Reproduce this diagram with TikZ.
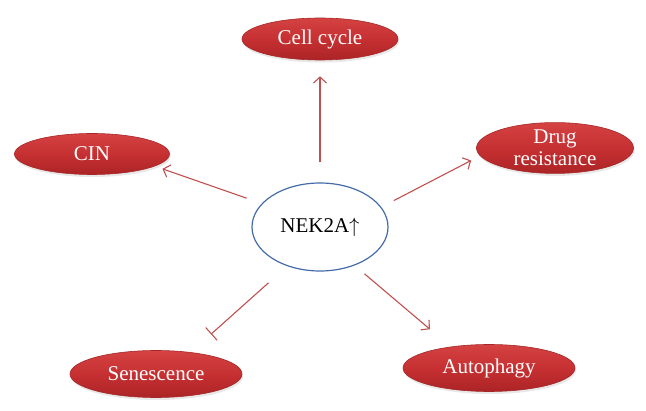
\documentclass[tikz,border=0pt]{standalone}
\usepackage{fontspec}
\setmainfont{Liberation Serif}
\usetikzlibrary{arrows.meta,shapes.geometric,shadows}
\definecolor{arr}{RGB}{192,80,77}
\definecolor{topred}{RGB}{212,66,66}
\definecolor{midred}{RGB}{198,48,50}
\definecolor{botred}{RGB}{172,36,38}
\definecolor{edgered}{RGB}{165,40,40}
\definecolor{nekblue}{RGB}{68,108,168}
\tikzset{
  redball/.style={ellipse, inner sep=0pt, draw=edgered, line width=0.6pt,
    top color=topred, bottom color=botred, middle color=midred,
    text=white, font=\fontsize{21}{23}\selectfont, align=center,
    drop shadow={opacity=0.18, shadow xshift=1pt, shadow yshift=-2.5pt}},
  nekball/.style={ellipse, inner sep=0pt, draw=nekblue, line width=1.2pt,
    fill=white, font=\fontsize{21}{23}\selectfont},
  link/.style={draw=arr, line width=1.1pt, -{Straight Barb[length=6pt,width=13pt,line width=1.1pt]}},
  block/.style={draw=arr, line width=1.1pt, -{Bar[width=17pt,line width=1.1pt]}}
}
\begin{document}
\begin{tikzpicture}[x=1pt,y=-1pt]
\useasboundingbox (0,0) rectangle (646,411);
\node[nekball, minimum width=136pt, minimum height=88pt] (nek) at (320,227) {NEK2A$\uparrow$};
\node[redball, minimum width=156pt, minimum height=42pt] (cell) at (320,39) {Cell cycle};
\node[redball, minimum width=155pt, minimum height=41pt] (cin) at (92,154) {CIN};
\node[redball, minimum width=157pt, minimum height=43pt] (drug) at (555,148) {Drug\\[-1pt]resistance};
\node[redball, minimum width=172pt, minimum height=47pt] (sen) at (156,374) {Senescence};
\node[redball, minimum width=172pt, minimum height=47pt] (auto) at (489,368) {Autophagy};

\draw[link, shorten <=20pt, shorten >=16pt] (nek.north) -- (cell.south);
\draw[link, shorten <=16pt, shorten >=8pt] (nek.158.3) -- (cin.-11.3);
\draw[link, shorten <=14pt, shorten >=10pt] (nek.18.9) -- (drug.186.2);
\draw[block, shorten <=25pt, shorten >=27pt] (nek.230.4) -- (sen.32.3);
\draw[link, shorten <=13pt, shorten >=27pt] (nek.-48.8) -- (auto.151.6);
\end{tikzpicture}
\end{document}
